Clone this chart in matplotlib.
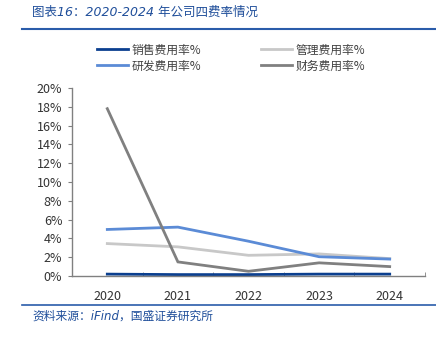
import matplotlib
matplotlib.use("Agg")
import matplotlib.pyplot as plt
from matplotlib.lines import Line2D
from matplotlib.ticker import FuncFormatter, FixedLocator

plt.rcParams['font.family'] = ['Noto Sans CJK SC', 'DejaVu Sans']

years = ['2020', '2021', '2022', '2023', '2024']
sales = [0.2, 0.15, 0.15, 0.2, 0.2]
admin = [3.45, 3.1, 2.2, 2.35, 1.85]
rnd = [4.95, 5.2, 3.7, 2.05, 1.8]
finance = [17.8, 1.5, 0.5, 1.4, 1.0]
labels = ['销售费用率%', '管理费用率%', '研发费用率%', '财务费用率%']
colors = ['#0B3F8F', '#C8C8C8', '#5B8BD6', '#808080']

fig = plt.figure(figsize=(4.36, 3.37), dpi=100)
ax = fig.add_axes([72/436, 1-276/337, (425-72)/436, (276-88)/337])

x = list(range(len(years)))
series = [sales, admin, rnd, finance]
order = [1, 2, 3, 0]
for i in order:
    ax.plot(x, series[i], color=colors[i], lw=2.0, solid_joinstyle='miter')

ax.set_xlim(-0.5, 4.5)
ax.set_ylim(0, 20)
ax.set_yticks(range(0, 21, 2))
ax.yaxis.set_major_formatter(FuncFormatter(lambda v, p: f'{int(v)}%'))
ax.set_xticks(x)
ax.set_xticklabels(years)
ax.xaxis.set_minor_locator(FixedLocator([0.5, 1.5, 2.5, 3.5, 4.5]))
ax.tick_params(axis='x', which='major', length=0, pad=10, labelsize=9, labelcolor='#333333')
ax.tick_params(axis='x', which='minor', direction='in', length=3, color='#808080')
ax.tick_params(axis='y', direction='out', length=3, color='#808080', labelsize=9, labelcolor='#333333', pad=4)
for s in ['top', 'right']:
    ax.spines[s].set_visible(False)
for s in ['left', 'bottom']:
    ax.spines[s].set_color('#808080')
    ax.spines[s].set_linewidth(1.0)

handles = [Line2D([0], [0], color=c, lw=2) for c in colors]
leg_order = [0, 2, 1, 3]
fig.legend([handles[i] for i in leg_order], [labels[i] for i in leg_order],
           ncol=2, loc='center', bbox_to_anchor=(0.53, 1-58/337), frameon=False,
           fontsize=8.5, handlelength=2.7, handletextpad=0.3, columnspacing=5.0,
           labelspacing=0.25, labelcolor='#404040')

fig.text(32/436, 1-12/337, '图表16：2020-2024 年公司四费率情况', color='#1F4E9A',
         fontsize=9, style='italic', va='center', ha='left',
         family=['DejaVu Sans', 'Noto Sans CJK SC'])
fig.add_artist(Line2D([22/436, 1.0], [1-29/337, 1-29/337], color='#2A5CAA', lw=1.5,
                      transform=fig.transFigure))
fig.add_artist(Line2D([22/436, 1.0], [1-305/337, 1-305/337], color='#2A5CAA', lw=1.2,
                      transform=fig.transFigure))
fig.text(32/436, 1-316/337, '资料来源：iFind，国盛证券研究所', color='#1F4E9A',
         fontsize=8.5, style='italic', va='center', ha='left',
         family=['DejaVu Sans', 'Noto Sans CJK SC'])

fig.savefig('out.png', dpi=100)
